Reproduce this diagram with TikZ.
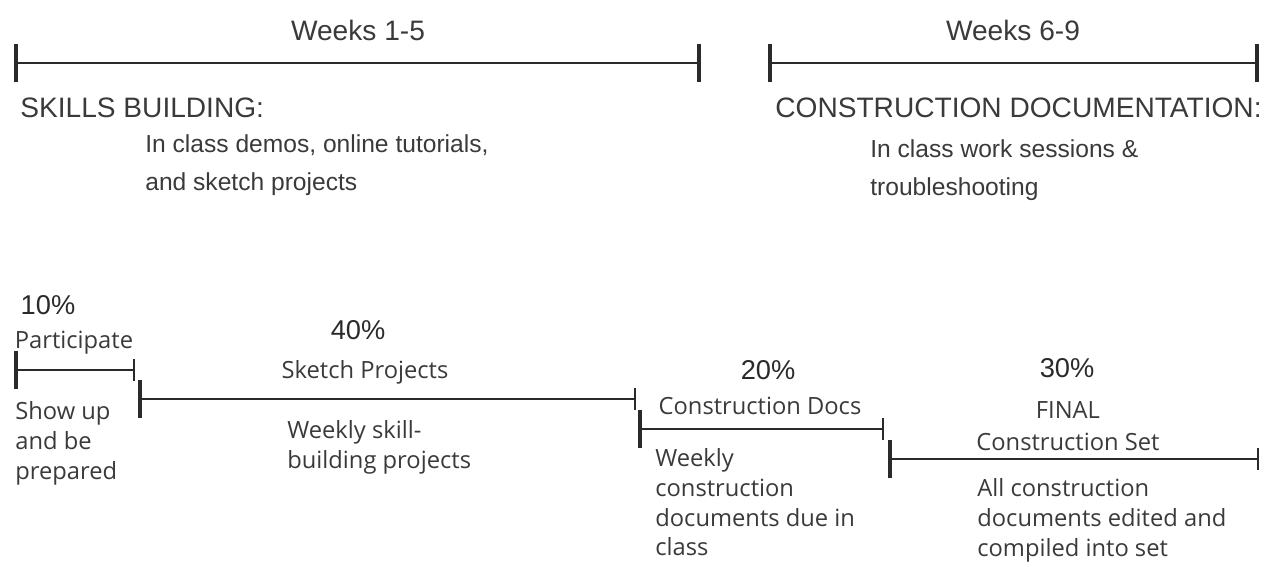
\documentclass[tikz,border=0pt]{standalone}
\usepackage{fontspec}
\setmainfont{Open Sans}
\newfontfamily\headfont{Liberation Sans}
\usetikzlibrary{arrows.meta}
\definecolor{ink}{HTML}{2A2A2A}
\definecolor{txt}{HTML}{3A3A3A}
\tikzset{
  weeks/.style={{Bar[width=22,line width=2.2]}-{Bar[width=22,line width=2.2]}, line width=1.1, draw=ink},
  share/.style={{Bar[width=22,line width=2.2]}-{Bar[width=12,line width=0.9]}, line width=0.8, draw=ink},
  head/.style={font=\headfont\fontsize{16}{18}\selectfont, text=txt, inner sep=0},
  sub/.style={font=\headfont\fontsize{14}{22}\selectfont, text=txt, inner sep=0, align=left},
  pct/.style={font=\headfont\fontsize{15.5}{16}\selectfont, text=ink, inner sep=0},
  lbl/.style={font=\fontsize{13.5}{18.5}\selectfont, text=txt, inner sep=0, align=center},
  note/.style={font=\fontsize{13.5}{17}\selectfont, text=txt, inner sep=0, align=left}
}
\begin{document}
\begin{tikzpicture}[x=0.02cm, y=-0.02cm]
\useasboundingbox (0,0) rectangle (1265,567);
% Zeitachsen oben
\coordinate (wa) at (14,63);
\coordinate (wb) at (701,63);
\coordinate (wc) at (768,63);
\coordinate (wd) at (1259,63);
\draw[weeks] (wa) -- (wb);
\draw[weeks] (wc) -- (wd);
\node[head] (weeksA) at (358,30) {Weeks 1-5};
\node[head] (weeksB) at (1013,30) {Weeks 6-9};
% Phasen
\node[head, anchor=west] (skills) at (20,108) {SKILLS BUILDING:};
\node[sub, anchor=north west] (skillsTxt) at (145,134) {In class demos, online tutorials,\\and sketch projects};
\node[head, anchor=west] (cd) at (775,108) {CONSTRUCTION DOCUMENTATION:};
\node[sub, anchor=north west] (cdTxt) at (870,139) {In class work sessions \&\\troubleshooting};
% Anteile
\coordinate (pa) at (14,370);
\coordinate (pb) at (135,370);
\draw[share] (pa) -- (pb);
\coordinate (sa) at (138,399);
\coordinate (sb) at (636,399);
\draw[share] (sa) -- (sb);
\coordinate (ca) at (638,429);
\coordinate (cb) at (884,429);
\draw[share] (ca) -- (cb);
\coordinate (fa) at (888,459);
\coordinate (fb) at (1259,459);
\draw[share] (fa) -- (fb);
% Beschriftungen
\node[pct] (p10) at (48,305) {10\%};
\node[lbl] (part) at (74,343) {Participate};
\node[note, anchor=north west] (partTxt) at (15,401) {Show up\\and be\\prepared};
\node[pct] (p40) at (358,330) {40\%};
\node[lbl] (sketch) at (365,372) {Sketch Projects};
\node[note, anchor=north west] (sketchTxt) at (287,420) {Weekly skill-\\building projects};
\node[pct] (p20) at (768,370) {20\%};
\node[lbl] (cdocs) at (760,406) {Construction Docs};
\node[note, anchor=north west] (cdocsTxt) at (655,448) {Weekly\\construction\\documents due in\\class};
\node[pct] (p30) at (1067,368) {30\%};
\node[lbl] (final) at (1068,426) {FINAL\\Construction Set};
\node[note, anchor=north west] (finalTxt) at (977,478) {All construction\\documents edited and\\compiled into set};
\end{tikzpicture}
\end{document}
